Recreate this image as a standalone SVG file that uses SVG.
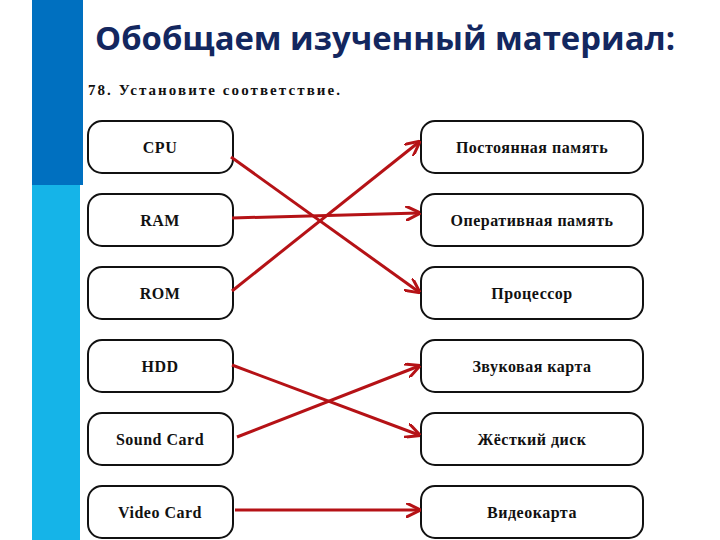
<svg xmlns="http://www.w3.org/2000/svg" width="720" height="540" viewBox="0 0 720 540">
<defs>
<style>
.b{fill:#fff;stroke:#111;stroke-width:2}
.t{font-family:"Liberation Serif",serif;font-weight:bold;font-size:16px;fill:#111;text-anchor:middle;letter-spacing:0.5px}
.c line{stroke:#b51216;stroke-width:3;marker-end:url(#a)}
</style>
<marker id="a" viewBox="0 0 10 10" refX="9" refY="5" markerWidth="5" markerHeight="5" orient="auto" markerUnits="strokeWidth"><path d="M0,0L10,5L0,10" fill="none" stroke="#b51216" stroke-width="2"/></marker>
</defs>
<rect width="720" height="540" fill="#fff"/>
<rect x="32" y="0" width="51" height="185" fill="#0070c0"/>
<rect x="32" y="185" width="48" height="355" fill="#15b4e8"/>
<text x="95" y="50" font-family="Open Sans,sans-serif" font-weight="bold" font-size="32" fill="#13275f" textLength="580" lengthAdjust="spacingAndGlyphs">Обобщаем изученный материал:</text>
<text x="88" y="95" font-family="Liberation Serif,serif" font-weight="bold" font-size="15" fill="#111" textLength="252">78. Установите соответствие.</text>
<g id="n1"><rect class="b" x="88" y="121" width="145" height="52" rx="14"/><text class="t" x="160" y="153">CPU</text></g>
<g id="n2"><rect class="b" x="88" y="194" width="145" height="52" rx="14"/><text class="t" x="160" y="226">RAM</text></g>
<g id="n3"><rect class="b" x="88" y="267" width="145" height="52" rx="14"/><text class="t" x="160" y="299">ROM</text></g>
<g id="n4"><rect class="b" x="88" y="340" width="145" height="52" rx="14"/><text class="t" x="160" y="372">HDD</text></g>
<g id="n5"><rect class="b" x="88" y="413" width="145" height="52" rx="14"/><text class="t" x="160" y="445">Sound Card</text></g>
<g id="n6"><rect class="b" x="88" y="486" width="145" height="52" rx="14"/><text class="t" x="160" y="518">Video Card</text></g>
<g id="m1"><rect class="b" x="421" y="121" width="222" height="52" rx="14"/><text class="t" x="532" y="153">Постоянная память</text></g>
<g id="m2"><rect class="b" x="421" y="194" width="222" height="52" rx="14"/><text class="t" x="532" y="226">Оперативная память</text></g>
<g id="m3"><rect class="b" x="421" y="267" width="222" height="52" rx="14"/><text class="t" x="532" y="299">Процессор</text></g>
<g id="m4"><rect class="b" x="421" y="340" width="222" height="52" rx="14"/><text class="t" x="532" y="372">Звуковая карта</text></g>
<g id="m5"><rect class="b" x="421" y="413" width="222" height="52" rx="14"/><text class="t" x="532" y="445">Жёсткий диск</text></g>
<g id="m6"><rect class="b" x="421" y="486" width="222" height="52" rx="14"/><text class="t" x="532" y="518">Видеокарта</text></g>
<g class="c">
<line x1="231" y1="157" x2="419" y2="292"/>
<line x1="232" y1="218" x2="419" y2="213"/>
<line x1="232" y1="291" x2="419" y2="142"/>
<line x1="232" y1="365" x2="419" y2="435"/>
<line x1="237" y1="437" x2="419" y2="366"/>
<line x1="235" y1="510" x2="419" y2="510"/>
</g>
</svg>
